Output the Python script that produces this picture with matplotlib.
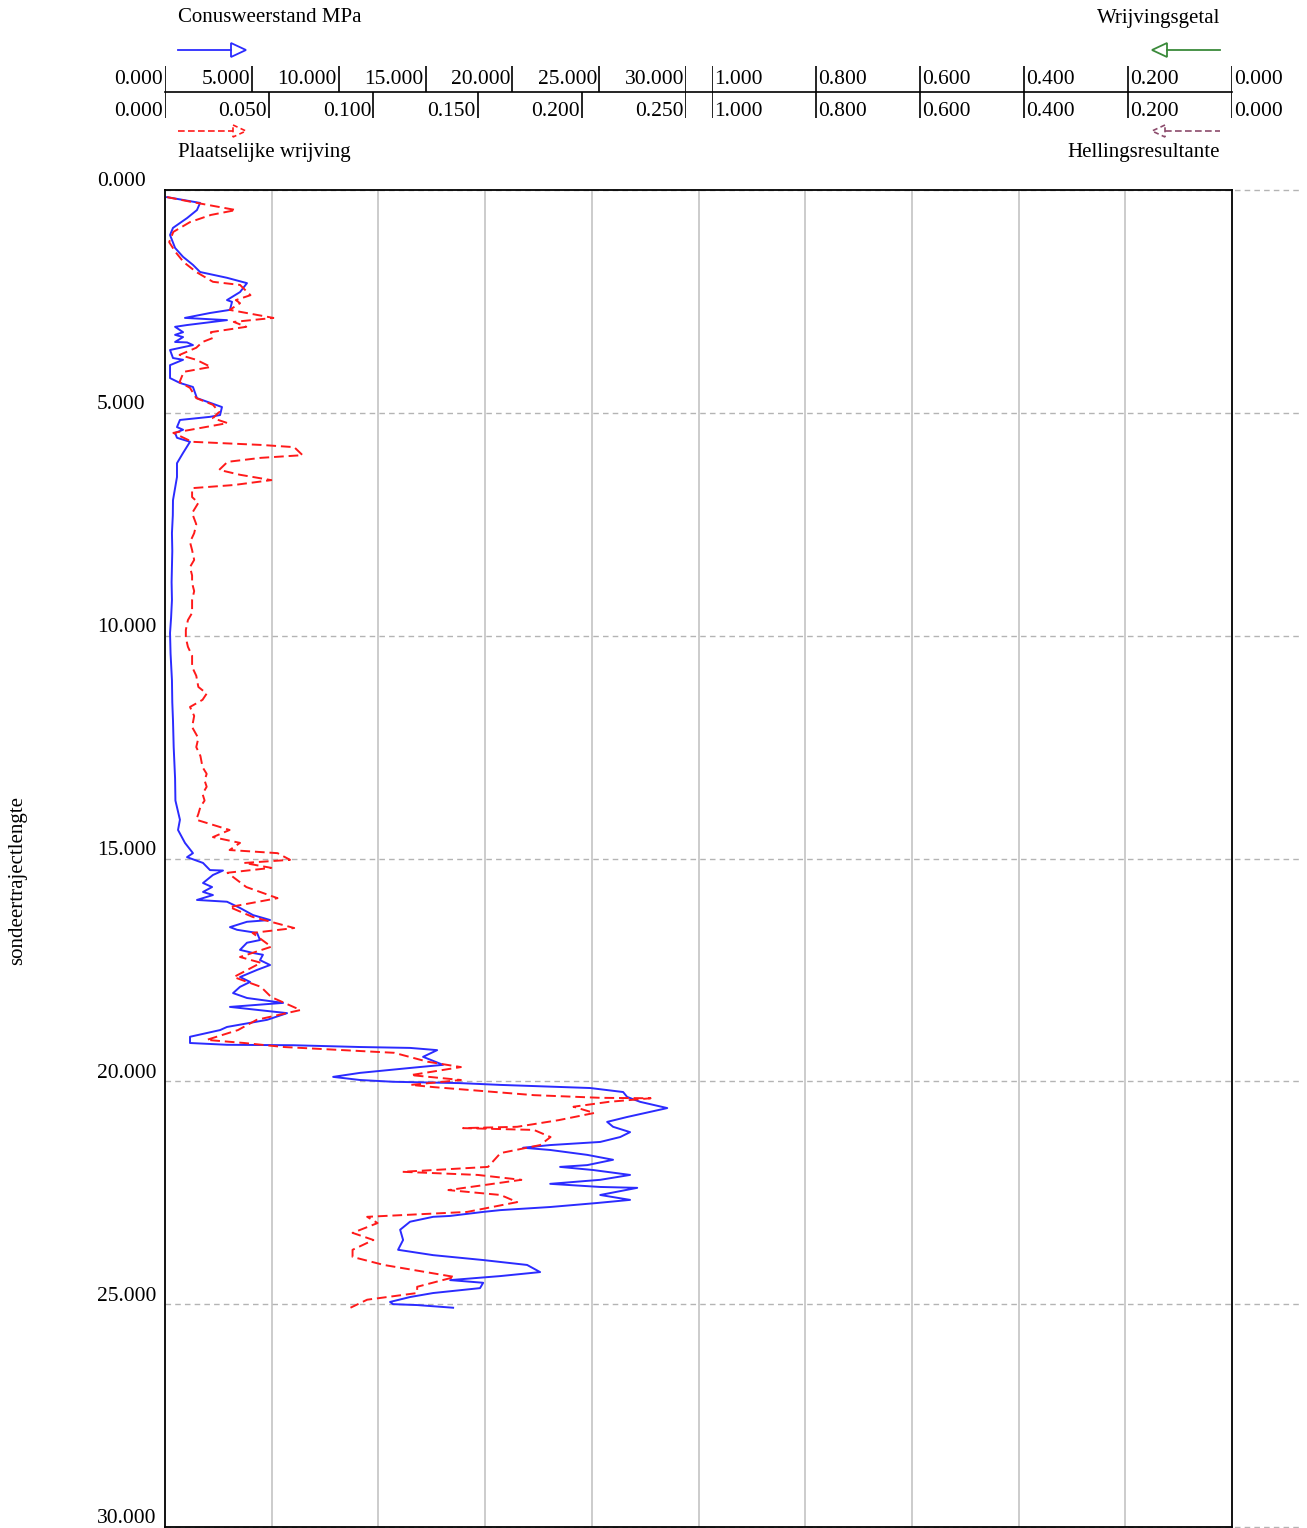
import numpy as np
import matplotlib.pyplot as plt
from matplotlib.patches import Polygon
from matplotlib.transforms import blended_transform_factory, offset_copy

plt.rcParams['font.family'] = ['Liberation Serif', 'DejaVu Serif']

W, H = 1307, 1528

# Conusweerstand (MPa)
qc_depth = [0.16, 0.29, 0.45, 0.63, 0.85, 1.01, 1.30, 1.50, 1.68, 1.84, 1.97, 2.09, 2.29, 2.47, 2.51,
            2.69, 2.76, 2.87, 2.92, 3.03, 3.07, 3.19, 3.25, 3.30, 3.41, 3.42, 3.48, 3.59, 3.77, 3.81,
            3.93, 4.22, 4.33, 4.42, 4.67, 4.87, 5.05, 5.09, 5.16, 5.32, 5.38, 5.45, 5.56, 5.65, 5.90,
            6.13, 6.44, 6.96, 7.30, 7.70, 8.10, 8.46, 8.80, 9.20, 9.60, 9.94, 10.40, 11.00, 11.50,
            11.90, 12.50, 13.20, 13.70, 14.13, 14.36, 14.65, 14.88, 14.97, 15.10, 15.26, 15.27, 15.37,
            15.55, 15.64, 15.75, 15.82, 15.93, 15.97, 16.11, 16.27, 16.38, 16.42, 16.54, 16.60, 16.67,
            16.83, 16.89, 17.05, 17.12, 17.16, 17.28, 17.39, 17.50, 17.66, 17.77, 17.88, 18.02, 18.13,
            18.24, 18.33, 18.47, 18.62, 18.78, 18.85, 19.00, 19.14, 19.18, 19.19, 19.23, 19.25, 19.30,
            19.45, 19.63, 19.70, 19.81, 19.90, 19.97, 20.01, 20.04, 20.08, 20.15, 20.24, 20.35, 20.46,
            20.60, 20.80, 20.91, 21.02, 21.14, 21.25, 21.36, 21.43, 21.49, 21.54, 21.65, 21.76, 21.88,
            21.92, 21.99, 22.10, 22.21, 22.30, 22.37, 22.39, 22.55, 22.66, 22.73, 22.82, 22.89, 22.93,
            23.02, 23.04, 23.15, 23.33, 23.56, 23.78, 23.90, 24.01, 24.12, 24.28, 24.37, 24.46, 24.52,
            24.64, 24.75, 24.84, 24.95, 25.00, 25.02, 25.08]
qc = [0.12, 2.02, 1.84, 1.27, 0.46, 0.29, 0.58, 1.04, 1.61, 2.02, 3.57, 4.72, 4.32, 3.57, 3.86,
      3.74, 2.59, 1.15, 3.57, 1.27, 0.58, 1.04, 0.58, 1.04, 0.58, 1.27, 1.61, 0.29, 0.46, 1.04,
      0.29, 0.29, 0.86, 1.61, 1.84, 3.28, 3.17, 2.59, 0.86, 0.69, 1.04, 0.58, 0.69, 1.44, 1.04,
      0.69, 0.69, 0.46, 0.45, 0.40, 0.42, 0.40, 0.38, 0.40, 0.35, 0.29, 0.32, 0.40, 0.42,
      0.46, 0.50, 0.58, 0.60, 0.86, 0.75, 1.15, 1.61, 1.27, 2.19, 2.59, 3.34, 2.76,
      2.19, 2.71, 2.19, 2.76, 1.84, 3.57, 4.32, 5.07, 6.05, 4.72, 3.74, 4.15, 5.30,
      5.47, 4.72, 4.32, 5.07, 5.64, 5.47, 6.05, 5.30, 4.32, 4.90, 4.32, 3.92, 4.72,
      6.80, 3.74, 7.03, 5.88, 3.57, 3.17, 1.44, 1.44, 3.57, 7.37, 11.23, 14.11, 15.67,
      14.86, 16.01, 14.11, 11.23, 9.68, 11.23, 13.13, 16.99, 19.30, 24.48, 26.38, 26.61, 27.36,
      28.92, 26.61, 25.46, 25.80, 26.78, 26.21, 25.06, 22.18, 20.62, 22.18, 24.31, 25.80, 24.31,
      22.75, 24.65, 26.78, 25.06, 22.18, 25.06, 27.19, 25.06, 26.78, 24.88, 22.18, 19.30, 18.32,
      16.42, 15.44, 14.11, 13.54, 13.71, 13.42, 15.44, 18.32, 20.85, 21.60, 19.30, 16.42, 18.32,
      18.14, 15.44, 14.11, 12.96, 13.13, 14.52, 16.59]

# Plaatselijke wrijving (MPa)
fs_depth = [0.16, 0.27, 0.45, 0.56, 0.72, 0.94, 1.17, 1.39, 1.62, 1.84, 2.06, 2.13, 2.36, 2.47, 2.54,
            2.69, 2.87, 2.96, 3.07, 3.19, 3.32, 3.41, 3.54, 3.70, 3.81, 3.97, 4.08, 4.31, 4.44, 4.67,
            4.82, 4.98, 5.12, 5.23, 5.45, 5.65, 5.72, 5.77, 5.95, 6.01, 6.10, 6.28, 6.39, 6.51, 6.62,
            6.69, 6.89, 7.02, 7.25, 7.50, 7.70, 7.90, 8.08, 8.30, 8.46, 8.65, 8.82, 9.00, 9.20, 9.49,
            9.65, 9.87, 10.05, 10.25, 10.45, 10.70, 10.90, 11.15, 11.30, 11.44, 11.60, 11.80, 12.05,
            12.30, 12.50, 12.70, 12.95, 13.10, 13.25, 13.39, 13.55, 13.70, 13.84, 14.00, 14.13, 14.36,
            14.52, 14.65, 14.81, 14.88, 15.03, 15.10, 15.21, 15.32, 15.64, 15.89, 16.09, 16.31, 16.56,
            16.67, 16.98, 17.21, 17.34, 17.66, 17.88, 18.11, 18.40, 18.62, 18.85, 19.07, 19.14, 19.23,
            19.30, 19.36, 19.56, 19.68, 19.86, 19.97, 20.08, 20.13, 20.31, 20.37, 20.38, 20.46, 20.57,
            20.71, 20.87, 21.02, 21.05, 21.09, 21.25, 21.43, 21.61, 21.92, 22.03, 22.10, 22.21, 22.44,
            22.55, 22.71, 22.93, 23.04, 23.18, 23.40, 23.56, 23.78, 23.94, 24.12, 24.39, 24.61, 24.75,
            24.90, 25.08]
fs = [0.001, 0.013, 0.034, 0.022, 0.012, 0.004, 0.002, 0.005, 0.009, 0.015, 0.023, 0.036, 0.041, 0.034, 0.036,
      0.031, 0.052, 0.033, 0.039, 0.022, 0.023, 0.018, 0.015, 0.007, 0.015, 0.022, 0.009, 0.007, 0.012, 0.015,
      0.023, 0.026, 0.023, 0.030, 0.004, 0.013, 0.046, 0.062, 0.066, 0.046, 0.030, 0.026, 0.036, 0.051, 0.033,
      0.013, 0.013, 0.016, 0.013, 0.015, 0.014, 0.012, 0.013, 0.014, 0.012, 0.013, 0.013, 0.014, 0.013, 0.013,
      0.011, 0.010, 0.010, 0.011, 0.013, 0.013, 0.015, 0.016, 0.020, 0.018, 0.012, 0.014, 0.013,
      0.016, 0.015, 0.017, 0.018, 0.020, 0.019, 0.020, 0.018, 0.019, 0.017, 0.016, 0.015, 0.031,
      0.023, 0.036, 0.031, 0.054, 0.060, 0.038, 0.051, 0.030, 0.039, 0.054, 0.031, 0.042, 0.062,
      0.042, 0.051, 0.036, 0.046, 0.033, 0.046, 0.051, 0.065, 0.044, 0.035, 0.020, 0.038, 0.057,
      0.086, 0.110, 0.126, 0.142, 0.118, 0.142, 0.118, 0.129, 0.177, 0.209, 0.233, 0.213, 0.196,
      0.206, 0.189, 0.169, 0.143, 0.177, 0.185, 0.180, 0.161, 0.155, 0.114, 0.150, 0.171, 0.136,
      0.161, 0.169, 0.145, 0.097, 0.102, 0.090, 0.100, 0.090, 0.090, 0.105, 0.139, 0.121, 0.121,
      0.097, 0.089]

depth_ticks = [0, 5, 10, 15, 20, 25, 30]
qc_ticks = [0, 5, 10, 15, 20, 25, 30]
fs_ticks = [0, 0.05, 0.10, 0.15, 0.20, 0.25]
rf_ticks = [1.0, 0.8, 0.6, 0.4, 0.2, 0.0]

blue = '#2b2bff'
red = '#ff1a1a'
green = '#3a8a3a'
purple = '#8b4a6b'
fsize = 15.5


def px(x0, y0, x1, y1):
    # figure rectangle from pixel edges
    return [x0 / W, 1 - y1 / H, (x1 - x0) / W, (y1 - y0) / H]


fig = plt.figure(figsize=(W / 100, H / 100), dpi=100)

# main plot
ax = fig.add_axes(px(165, 190, 1232, 1527))
ax.set_xlim(0, 1)
ax.set_xticks([])
ax.set_yticks([])
for s in ax.spines.values():
    s.set_linewidth(1.3)
    s.set_color('black')
    s.set_zorder(5)
for xv in np.arange(1, 10) / 10:
    ax.axvline(xv, color='#c8c8c8', lw=1.3, zorder=0)
tr = blended_transform_factory(ax.transAxes, ax.transData)
for d in depth_ticks:
    ax.plot([0, 1.064], [d, d], transform=tr, ls=(0, (4, 3)), color='#b4b4b4',
            lw=1.0, clip_on=False, zorder=0)
    ax.text(-0.0637, d + 0.03, f'{d:.3f}', transform=tr, ha='left', va='bottom', fontsize=fsize)

axq = ax.twiny()
axq.set_xlim(0, 30 * (1232 - 165) / (686 - 165))
axq.plot(qc, qc_depth, color=blue, lw=1.4, zorder=3)
axq.axis('off')

axf = ax.twiny()
axf.set_xlim(0, 0.25 * (1232 - 165) / (686 - 165))
axf.plot(fs, fs_depth, color=red, lw=1.4, ls=(0, (5, 2.5)), zorder=2)
axf.axis('off')
ax.set_ylim(30, 0)

fig.text(18 / W, 1 - 880 / H, 'sondeertrajectlengte', rotation=90,
         ha='center', va='center', fontsize=15)

# top scales
sq = fig.add_axes(px(165, 60, 686, 125))
sf = fig.add_axes(px(165, 60, 686, 125))
sr = fig.add_axes(px(712, 60, 1232, 125))
sq.set_xlim(0, 30)
sf.set_xlim(0, 0.25)
sr.set_xlim(1.0, 0.0)
for a in (sq, sf, sr):
    a.set_ylim(125, 60)
    a.axis('off')

sq.vlines(qc_ticks, 66, 92, color='black', lw=1.2)
sf.vlines(fs_ticks, 92, 118, color='black', lw=1.2)
sr.vlines(rf_ticks, 66, 118, color='black', lw=1.2)
for v in qc_ticks:
    sq.text(v, 80, f'{v:.3f}', ha='right', va='center', fontsize=fsize,
            transform=offset_copy(sq.transData, fig=fig, x=-2, units='dots'))
for v in fs_ticks:
    sf.text(v, 112, f'{v:.3f}', ha='right', va='center', fontsize=fsize,
            transform=offset_copy(sf.transData, fig=fig, x=-2, units='dots'))
for v in rf_ticks:
    for yy in (80, 112):
        sr.text(v, yy, f'{v:.3f}', ha='left', va='center', fontsize=fsize,
                transform=offset_copy(sr.transData, fig=fig, x=2, units='dots'))

# overlay for the scale line and legend
ov = fig.add_axes([0, 0, 1, 1])
ov.set_xlim(0, W)
ov.set_ylim(H, 0)
ov.axis('off')
ov.patch.set_visible(False)
ov.plot([165, 1232], [92, 92], color='black', lw=1.2)

ov.text(178, 18, 'Conusweerstand MPa', ha='left', va='center', fontsize=15)
ov.text(1220, 18, 'Wrijvingsgetal', ha='right', va='center', fontsize=15)
ov.text(178, 152, 'Plaatselijke wrijving', ha='left', va='center', fontsize=15)
ov.text(1220, 152, 'Hellingsresultante', ha='right', va='center', fontsize=15)

ov.plot([178, 231], [50, 50], color=blue, lw=1.3)
ov.add_patch(Polygon([[231, 43], [246, 50], [231, 57]], closed=True, fill=False, ec=blue, lw=1.3))
ov.plot([1167, 1220], [50, 50], color=green, lw=1.3)
ov.add_patch(Polygon([[1167, 43], [1152, 50], [1167, 57]], closed=True, fill=False, ec=green, lw=1.3))
ov.plot([178, 233], [131, 131], color=red, lw=1.2, ls=(0, (4, 2)))
ov.add_patch(Polygon([[233, 125], [246, 131], [233, 137]], closed=True, fill=False, ec=red,
                     lw=1.2, ls=(0, (3, 2))))
ov.plot([1165, 1220], [131, 131], color=purple, lw=1.2, ls=(0, (4, 2)))
ov.add_patch(Polygon([[1165, 125], [1152, 131], [1165, 137]], closed=True, fill=False, ec=purple,
                     lw=1.2, ls=(0, (3, 2))))

fig.savefig('out.png', dpi=100)
